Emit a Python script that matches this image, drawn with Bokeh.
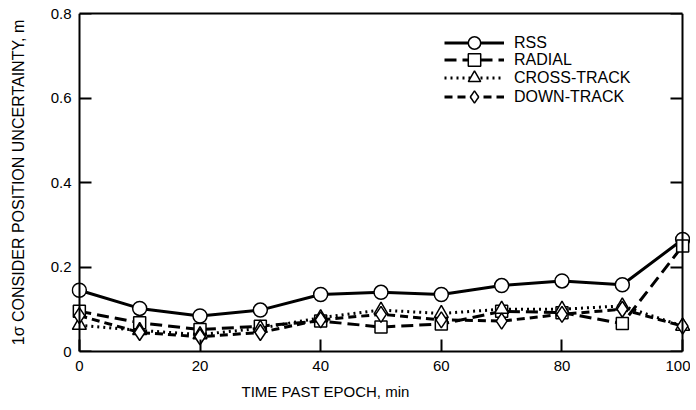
from bokeh.plotting import figure
from bokeh.models import Range1d, LinearAxis, Legend, LegendItem, Title, FixedTicker
from bokeh.embed import file_html
from bokeh.resources import INLINE

time_min = [0, 10, 20, 30, 40, 50, 60, 70, 80, 90, 100]
rss = [0.145, 0.102, 0.084, 0.098, 0.135, 0.140, 0.135, 0.156, 0.167, 0.158, 0.265]
radial = [0.095, 0.068, 0.052, 0.060, 0.072, 0.058, 0.065, 0.095, 0.092, 0.066, 0.250]
cross_track = [0.062, 0.050, 0.040, 0.055, 0.080, 0.098, 0.090, 0.100, 0.100, 0.108, 0.060]
down_track = [0.085, 0.045, 0.035, 0.045, 0.075, 0.088, 0.075, 0.072, 0.088, 0.100, 0.060]
series_labels = ["RSS", "RADIAL", "CROSS-TRACK", "DOWN-TRACK"]
x_ticks = [0, 20, 40, 60, 80, 100]
y_ticks = [0, 0.2, 0.4, 0.6, 0.8]
y_tick_labels = {0: "0", 0.2: "0.2", 0.4: "0.4", 0.6: "0.6", 0.8: "0.8"}

FONT = "Liberation Sans"

p = figure(width=690, height=410, output_backend="svg", toolbar_location=None,
           x_range=Range1d(-1.3, 101.3), y_range=Range1d(0, 0.8),
           min_border_left=71, min_border_right=0, min_border_top=13, min_border_bottom=59)
p.grid.visible = False
p.outline_line_color = None
p.background_fill_color = "white"

# bottom axis
xa = p.xaxis[0]
xa.ticker = FixedTicker(ticks=x_ticks)
xa.bounds = (0, 100)
xa.axis_line_width = 2
xa.major_tick_line_width = 2
xa.major_tick_in = 12
xa.major_tick_out = 0
xa.minor_tick_line_color = None
xa.major_label_text_font = FONT
xa.major_label_text_font_size = "15px"
xa.major_label_text_color = "black"
xa.major_label_standoff = 9

# left axis: labels only
ya = p.yaxis[0]
ya.ticker = FixedTicker(ticks=y_ticks)
ya.major_label_overrides = y_tick_labels
ya.axis_line_color = None
ya.major_tick_line_color = None
ya.minor_tick_line_color = None
ya.major_tick_in = 0
ya.major_tick_out = 0
ya.major_label_standoff = 0
ya.major_label_text_font = FONT
ya.major_label_text_font_size = "15px"
ya.major_label_text_color = "black"
ya.axis_label = "1\u03c3 CONSIDER POSITION UNCERTAINTY, m"
ya.axis_label_text_font = FONT
ya.axis_label_text_font_style = "normal"
ya.axis_label_text_font_size = "16px"
ya.axis_label_text_color = "black"
ya.axis_label_standoff = 21

blank = {t: "" for t in y_ticks}
left_line = LinearAxis(ticker=FixedTicker(ticks=y_ticks), fixed_location=0,
                       major_label_overrides=blank, major_label_text_font_size="1px",
                       major_tick_in=12, major_tick_out=0, major_tick_line_width=2,
                       axis_line_width=2, minor_tick_line_color=None, major_label_standoff=0)
right_line = LinearAxis(ticker=FixedTicker(ticks=y_ticks), fixed_location=100,
                        major_label_overrides=blank, major_label_text_font_size="1px",
                        major_tick_in=0, major_tick_out=12, major_tick_line_width=2,
                        axis_line_width=2, minor_tick_line_color=None, major_label_standoff=0)
p.add_layout(left_line, "left")
p.add_layout(right_line, "left")

top = LinearAxis(ticker=FixedTicker(ticks=[]), bounds=(0, 100), axis_line_width=2,
                 major_tick_line_color=None, minor_tick_line_color=None,
                 major_label_standoff=0, major_label_text_font_size="1px")
p.add_layout(top, "above")

xt = Title(text="TIME PAST EPOCH, min", align="left", offset=170, text_font=FONT,
           text_font_size="15px", text_font_style="normal", text_color="black", standoff=15)
p.add_layout(xt, "below")

W = 3
r1 = p.line(time_min, rss, line_color="black", line_width=W)
m1 = p.scatter(time_min, rss, marker="circle", size=14, fill_color="white", line_color="black", line_width=1.5)
r2 = p.line(time_min, radial, line_color="black", line_width=W, line_dash="12 6")
m2 = p.scatter(time_min, radial, marker="square", size=12, fill_color="white", line_color="black", line_width=1.5)
r3 = p.line(time_min, cross_track, line_color="black", line_width=W, line_dash="2 4")
m3 = p.scatter(time_min, cross_track, marker="triangle", size=14, fill_color="white", line_color="black", line_width=1.5)
r4 = p.line(time_min, down_track, line_color="black", line_width=W, line_dash="8 5")
m4 = p.scatter(time_min, down_track, marker="diamond", size=16, fill_color="white", line_color="black", line_width=1.5)

# one legend per row so that the markers keep full size with a tight row pitch
row_bottoms = [293, 276, 258, 239]
pairs = [(r1, m1), (r2, m2), (r3, m3), (r4, m4)]
for lab, (ln, mk), yb in zip(series_labels, pairs, row_bottoms):
    lg = Legend(items=[LegendItem(label=lab, renderers=[ln, mk])],
                location=(373, yb), border_line_color=None, background_fill_alpha=0,
                glyph_width=60, glyph_height=31, label_height=19, spacing=0,
                padding=0, margin=0, label_text_font=FONT, label_text_font_size="16px",
                label_text_color="black", label_standoff=10)
    p.add_layout(lg)

open("out.html", "w").write(file_html(p, INLINE))
